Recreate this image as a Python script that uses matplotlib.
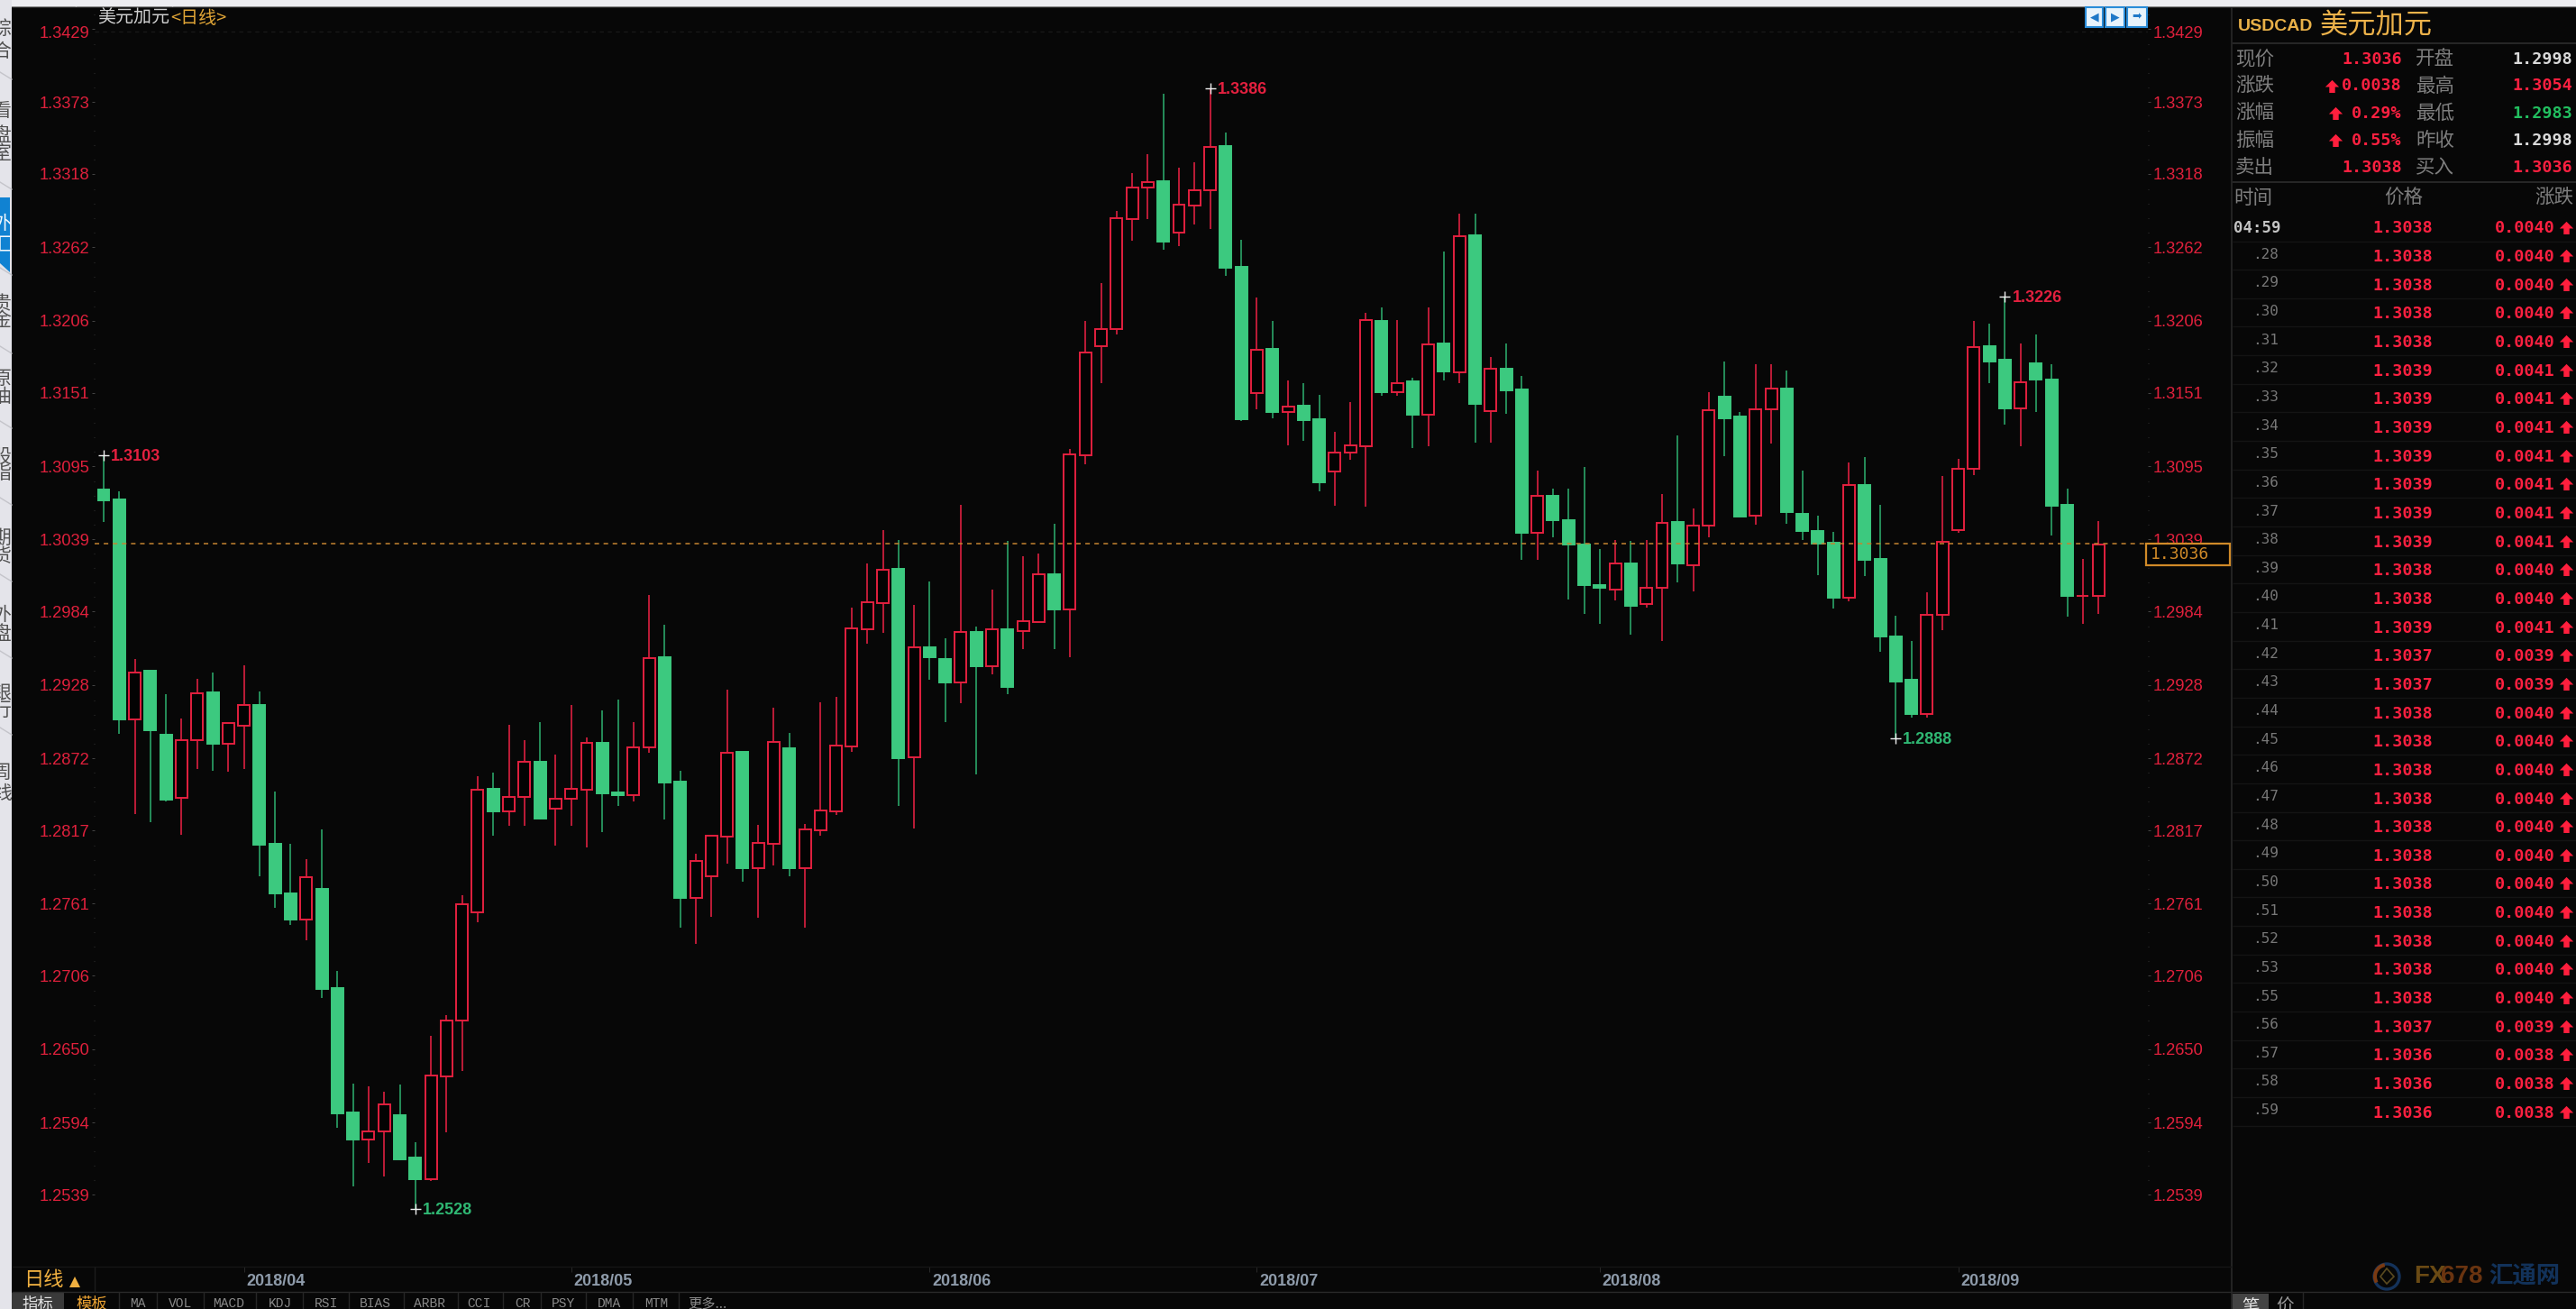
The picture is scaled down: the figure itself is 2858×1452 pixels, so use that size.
import matplotlib
matplotlib.use("Agg")
import matplotlib.pyplot as plt
from matplotlib.patches import Rectangle, Circle, Wedge, Polygon
from matplotlib.path import Path
from matplotlib.ticker import FixedLocator
from matplotlib.transforms import Affine2D, Bbox, TransformedBbox

up = list("GGRGGRRGRRGGGRGGGRRGGRRRRGRRGRRRGGRRGGRRRGRRGRRRRRRGRGGRGRGRRGRRRRRRGRRRGGRGRGGRRRGRGRGRGRGGRGGGGRGRRGRRGGRRGGGGRGGGGRRRRGGRGGGRR")

highs = [1.31030,1.30760,1.29480,1.29389,1.29212,1.29026,1.29327,1.29377,1.28992,1.29430,
 1.29232,1.28469,1.28064,1.27950,1.28179,1.27097,1.26238,1.26218,1.26175,1.26230,
 1.25792,1.26602,1.26763,1.27672,1.28583,1.28611,1.28976,1.28859,1.28996,1.28749,
 1.29127,1.28879,1.29088,1.29170,1.28996,1.29967,1.29739,1.28625,1.27992,1.28129,
 1.29241,1.28769,1.28212,1.29106,1.28914,1.28221,1.29149,1.29189,1.29870,1.30204,
 1.30462,1.30386,1.29892,1.30070,1.29636,1.30655,1.29728,1.30008,1.30379,1.30264,
 1.30286,1.30513,1.31081,1.32060,1.32350,1.32898,1.33187,1.33331,1.33794,1.33228,
 1.33269,1.33834,1.33496,1.32681,1.32237,1.32060,1.31604,1.31585,1.31494,1.31213,
 1.31440,1.32123,1.32164,1.32068,1.31626,1.32164,1.32588,1.32874,1.32874,1.31783,
 1.31886,1.31636,1.30913,1.30780,1.30780,1.30944,1.30317,1.30386,1.30379,1.30386,
 1.30738,1.31184,1.30627,1.31515,1.31751,1.31360,1.31728,1.31728,1.31680,1.30913,
 1.30573,1.30451,1.30978,1.31016,1.30657,1.29809,1.29616,1.29984,1.30875,1.31006,
 1.32060,1.32040,1.32247,1.31886,1.31957,1.31731,1.30780,1.30245,1.30531]

body_top = [1.30772,1.30698,1.29375,1.29389,1.28900,1.28859,1.29219,1.29223,1.28992,1.29127,
 1.29127,1.28064,1.27692,1.27815,1.27723,1.26969,1.26020,1.25872,1.26080,1.25998,
 1.25673,1.26296,1.26719,1.27606,1.28482,1.28487,1.28425,1.28691,1.28694,1.28411,
 1.28487,1.28836,1.28838,1.28460,1.28806,1.29487,1.29492,1.28542,1.27938,1.28129,
 1.28765,1.28769,1.28074,1.28847,1.28799,1.28177,1.28319,1.28817,1.29714,1.29911,
 1.30159,1.30163,1.29569,1.29569,1.29478,1.29684,1.29684,1.29705,1.29705,1.29767,
 1.30126,1.30126,1.31037,1.31820,1.31996,1.32843,1.33079,1.33120,1.33125,1.32946,
 1.33057,1.33388,1.33391,1.32473,1.31841,1.31845,1.31407,1.31409,1.31305,1.31056,
 1.31109,1.32068,1.32060,1.31584,1.31597,1.31882,1.31886,1.32707,1.32712,1.31696,
 1.31696,1.31532,1.30726,1.30726,1.30539,1.30352,1.30045,1.30210,1.30210,1.30023,
 1.30520,1.30524,1.30497,1.31377,1.31483,1.31326,1.31387,1.31542,1.31544,1.30586,
 1.30458,1.30366,1.30807,1.30809,1.30245,1.29652,1.29322,1.29817,1.30375,1.30933,
 1.31862,1.31866,1.31762,1.31593,1.31738,1.31613,1.30657,1.29962,1.30352]

body_bot = [1.30689,1.29017,1.29019,1.28934,1.28407,1.28420,1.28859,1.28831,1.28833,1.28969,
 1.28061,1.27689,1.27489,1.27491,1.26962,1.26013,1.25807,1.25810,1.25872,1.25661,
 1.25508,1.25510,1.26293,1.26719,1.27544,1.28315,1.28317,1.28422,1.28262,1.28337,
 1.28411,1.28482,1.28451,1.28439,1.28441,1.28804,1.28535,1.27655,1.27657,1.27822,
 1.28120,1.27880,1.27884,1.28069,1.27882,1.27884,1.28173,1.28317,1.28813,1.29702,
 1.29907,1.28721,1.28731,1.29492,1.29299,1.29296,1.29423,1.29423,1.29265,1.29691,
 1.29760,1.29854,1.29856,1.31030,1.31868,1.31993,1.32838,1.33077,1.32664,1.32736,
 1.32941,1.33056,1.32464,1.31308,1.31508,1.31363,1.31363,1.31301,1.30827,1.30909,
 1.31054,1.31105,1.31515,1.31515,1.31343,1.31343,1.31673,1.31666,1.31425,1.31373,
 1.31529,1.30441,1.30443,1.30538,1.30352,1.30042,1.30022,1.30011,1.29884,1.29898,
 1.30022,1.30207,1.30195,1.30496,1.31318,1.30565,1.30569,1.31384,1.30600,1.30455,
 1.30359,1.29947,1.29947,1.30235,1.29650,1.29306,1.29058,1.29060,1.29815,1.30465,
 1.30930,1.31751,1.31392,1.31394,1.31608,1.30648,1.29960,1.29957,1.29957]

lows = [1.30524,1.28907,1.28294,1.28233,1.28391,1.28139,1.28639,1.28625,1.28618,1.28639,
 1.27820,1.27582,1.27448,1.27333,1.26891,1.25900,1.25455,1.25629,1.25525,1.25652,
 1.25280,1.25495,1.25867,1.26331,1.27466,1.28127,1.28202,1.28202,1.28253,1.28056,
 1.28202,1.28040,1.28159,1.28356,1.28391,1.28762,1.28253,1.27427,1.27304,1.27510,
 1.27914,1.27776,1.27501,1.27902,1.27818,1.27427,1.28129,1.28286,1.28769,1.29595,
 1.29678,1.28356,1.28184,1.29320,1.28996,1.29141,1.28594,1.29361,1.29212,1.29554,
 1.29760,1.29554,1.29492,1.30967,1.31585,1.31952,1.32671,1.32836,1.32599,1.32629,
 1.32792,1.32763,1.32403,1.31298,1.31384,1.31317,1.31112,1.31143,1.30760,1.30648,
 1.30999,1.30641,1.31484,1.31484,1.31090,1.31102,1.31607,1.31585,1.31132,1.31132,
 1.31350,1.30235,1.30235,1.30409,1.29935,1.29822,1.29748,1.29925,1.29667,1.29873,
 1.29616,1.30063,1.29996,1.30409,1.31028,1.30565,1.30503,1.31123,1.30512,1.30389,
 1.30121,1.29863,1.29918,1.30111,1.29534,1.28875,1.29028,1.29028,1.29698,1.30441,
 1.30883,1.31586,1.31267,1.31102,1.31363,1.30421,1.29801,1.29748,1.29822]

ytick_values = [1.3429,1.3373,1.3318,1.3262,1.3206,1.3151,1.3095,1.3039,1.2984,1.2928,
                1.2872,1.2817,1.2761,1.2706,1.2650,1.2594,1.2539]
month_index = [9,30,53,74,96,119]
month_labels = ["2018/04","2018/05","2018/06","2018/07","2018/08","2018/09"]
extreme_index = [0,71,122,20,115]
extreme_labels = ["1.3103","1.3386","1.3226","1.2528","1.2888"]
extreme_is_high = [True,True,True,False,False]
current_price = 1.3036

quote_left = [("现价","1.3036",False),("涨跌","0.0038",True),("涨幅","0.29%",True),("振幅","0.55%",True),("卖出","1.3038",False)]
quote_right = [("开盘","1.2998","w"),("最高","1.3054","r"),("最低","1.2983","g"),("昨收","1.2998","w"),("买入","1.3036","r")]
row_times = ["04:59",".28",".29",".30",".31",".32",".33",".34",".35",".36",".37",".38",".39",".40",".41",".42",
             ".43",".44",".45",".46",".47",".48",".49",".50",".51",".52",".53",".55",".56",".57",".58",".59"]
row_prices = ["1.3038"]*5+["1.3039"]*7+["1.3038"]*2+["1.3039","1.3037","1.3037"]+["1.3038"]*11+["1.3037","1.3036","1.3036","1.3036"]
row_changes = ["0.0040"]*5+["0.0041"]*7+["0.0040"]*2+["0.0041","0.0039","0.0039"]+["0.0040"]*11+["0.0039","0.0038","0.0038","0.0038"]
tabs = [("MA",153),("VOL",200),("MACD",254),("KDJ",311),("RSI",362),("BIAS",416),("ARBR",477),("CCI",531),("CR",580),("PSY",625),("DMA",676),("MTM",728)]

W, H = 2858, 1452
BG = "#070707"
RED = "#E4203F"
GREEN = "#3CC97F"
plt.rcParams["font.family"] = ["Liberation Sans", "Noto Sans CJK SC", "DejaVu Sans"]
fig = plt.figure(figsize=(W/100, H/100), dpi=100, facecolor=BG)

L, R, T, B = 105, 2383, 8, 1405
ax = fig.add_axes([L/W, 1-B/H, (R-L)/W, (B-T)/H], facecolor=BG)
X0, DX = 115, 17.29
ax.set_xlim((L-X0)/DX, (R-X0)/DX)
price_at = lambda y: 1.34508 - 0.00006881*y
ax.set_ylim(price_at(B), price_at(T))
for s in ax.spines.values():
    s.set_visible(False)

xs = list(range(len(up)))
wick_col = {"R": "#DC2040", "G": "#2BA468"}
ax.vlines(xs, lows, highs, colors=[wick_col[u] for u in up], linewidth=1.2, zorder=2)
heights = [a-b for a, b in zip(body_top, body_bot)]
face = [GREEN if u == "G" else "#030303" for u in up]
edge = [GREEN if u == "G" else RED for u in up]
ax.bar(xs, heights, bottom=body_bot, width=0.75, color=face, edgecolor=edge, linewidth=1.4, zorder=3)

ax.axhline(current_price, color="#C48430", lw=1.1, linestyle=(0, (3.3, 3.3)), zorder=4)
ax.axhline(1.3427, color="#1b1b1b", lw=0.8, linestyle=(0, (4, 4)), zorder=1)

ax.set_yticks(ytick_values)
ax.set_yticklabels([f"{v:.4f}" for v in ytick_values])
ax.yaxis.set_minor_locator(FixedLocator([v+0.00111*k for v in ytick_values for k in range(1, 5)]))
ax.tick_params(axis="y", which="major", length=2, width=0.7, color="#444444", labelcolor="#E0203C",
               labelsize=13.2, left=True, right=True, labelleft=True, labelright=True, pad=2)
ax.tick_params(axis="y", which="minor", length=1, width=0.8, color="#303030", left=True, right=True)
first = ax.yaxis.get_major_ticks()[0]
for lbl in (first.label1, first.label2):
    lbl.set_transform(lbl.get_transform() + Affine2D().translate(0, -3.4))

ax.set_xticks(month_index)
ax.set_xticklabels(month_labels)
ax.tick_params(axis="x", length=4, width=0.7, color="#2a2a2a", labelcolor="#8E9BAA", labelsize=13, pad=1.5)
for lbl in ax.get_xticklabels():
    lbl.set_ha("left")
    lbl.set_fontweight("bold")
    lbl.set_transform(lbl.get_transform() + Affine2D().translate(3, 0))

for i, text, hi in zip(extreme_index, extreme_labels, extreme_is_high):
    val = highs[i] if hi else lows[i]
    ax.plot([i], [val], marker="+", ms=8, mew=1, color="#F0F0F0", zorder=6)
    ax.annotate(text, xy=(i, val), xytext=(8, -1.5), textcoords="offset pixels", va="center", ha="left",
                color=RED if hi else "#2FB873", fontsize=13, fontweight="bold", zorder=6)

# -------- interface chrome in pixel coordinates
ui = fig.add_axes([0, 0, 1, 1], facecolor="none", zorder=5)
ui.set_xlim(0, W)
ui.set_ylim(H, 0)
ui.axis("off")

def rect(x0, y0, x1, y1, fc, ec="none", lw=0, z=1):
    ui.add_patch(Rectangle((x0, y0), x1-x0, y1-y0, facecolor=fc, edgecolor=ec, linewidth=lw, zorder=z))

def hl(y, x0, x1, c="#222222", lw=1.0):
    ui.plot([x0, x1], [y, y], color=c, lw=lw, zorder=1, solid_capstyle="butt")

def vl(x, y0, y1, c="#222222", lw=1.0):
    ui.plot([x, x], [y0, y1], color=c, lw=lw, zorder=1, solid_capstyle="butt")

MONO = "DejaVu Sans Mono"
CJK = "Noto Sans CJK SC"
arrow = Path([(-1, 0), (0, 1), (1, 0), (.42, 0), (.42, -.85), (-.42, -.85), (-.42, 0), (-1, 0)], closed=True)

def up_arrow(x, y, ms=12):
    ui.plot([x], [y], marker=arrow, ms=ms, color="#FF1F3D", mew=0, zorder=3)

# top strip and left sidebar
rect(0, 0, W, 7, "#EDEDF1", z=2)
hl(7, 0, W, "#8A8A8A", 1.0)
for x in (84, 191):
    vl(x, 0, 7, "#C8C8CC")
rect(0, 0, 13, H, "#E4E4EA", z=2)
rect(0, 219, 11, 302, "#1082D2", z=3)
ui.add_patch(Polygon([(0, 292), (11, 302), (0, 302)], facecolor="#E4E4EA", edgecolor="none", zorder=3))
clip = TransformedBbox(Bbox([[0, 0], [13, H]]), ui.transData)
side = [("综",32),("合",57),("看",123),("盘",150),("室",170),("外",248),("汇",272),("贵",337),("金",355),
        ("原",420),("油",440),("股",507),("指",525),("期",597),("货",617),("外",682),("盘",703),("银",768),("行",788),("周",857),("线",880)]
for ch, y in side:
    c = "#F4F8FC" if ch in ("外", "汇") and y < 300 else "#505050"
    t = ui.text(2, y, ch, ha="center", va="center", fontsize=15, color=c, family=CJK, zorder=4)
    t.set_clip_on(True)
    t.set_clip_box(clip)
for y in (88, 210, 305, 392, 475, 560, 645, 730, 815):
    ui.plot([0, 13], [y-8, y], color="#C4C4CA", lw=1, zorder=3)

# chart title and toolbar icons
ui.text(108, 20, "美元加元", color="#CFCFCF", fontsize=14.4, family=CJK, va="center", ha="left")
ui.text(189, 20, "<日线>", color="#DFA436", fontsize=14.4, family=CJK, va="center", ha="left")
for (x0, x1), g in zip([(2314, 2333), (2336, 2357), (2360, 2382)], ["◀", "▶", "➡"]):
    rect(x0, 8, x1, 30, "#E8F3FB", "#2A8CD8", 1.5, z=3)
    ui.text((x0+x1)/2, 19, g, ha="center", va="center", fontsize=9, color="#1E78C8", family="DejaVu Sans", zorder=4)

# current price box
rect(2381, 603, 2474, 627, "#050505", "#D08A28", 1.6, z=3)
ui.text(2386, 615, "1.3036", color="#D08A28", family=MONO, fontsize=13, va="center", ha="left", zorder=4)

# frame lines
vl(2476, 8, H, "#262626", 1.3)
hl(1405, 13, 2476, "#161616")
hl(1433, 13, W, "#2A2A2A")
vl(105, 1405, 1433, "#1c1c1c")

# bottom tabs
ui.text(26, 1420, "日线", color="#F0B040", fontsize=16, family=CJK, va="center", ha="left")
ui.plot([83], [1422], marker="^", ms=9, color="#F0B040", mew=0)
rect(13, 1434, 71, H, "#3A3A3A", z=0)
ui.text(42, 1447, "指标", color="#E4E4E4", fontsize=12.5, family=CJK, va="center", ha="center")
ui.text(102, 1447, "模板", color="#E8A030", fontsize=12.5, family=CJK, va="center", ha="center")
for name, x in tabs:
    ui.text(x, 1446, name, color="#8A8A8A", fontsize=10.5, family="Liberation Mono", va="center", ha="center")
ui.text(785, 1446, "更多...", color="#8A8A8A", fontsize=11, family=CJK, va="center", ha="center")
for x in (132, 174, 226, 284, 336, 387, 448, 508, 558, 600, 650, 702, 753):
    vl(x, 1433, H, "#262626")

# right panel header
ui.text(2483, 29, "USDCAD", color="#E8B048", fontsize=14, fontweight="bold", va="center", ha="left")
ui.text(2574, 29, "美元加元", color="#EDB24A", fontsize=22.5, family=CJK, va="center", ha="left")
hl(48, 2477, W, "#2A2A2A", 1.3)
hl(202, 2477, W, "#2A2A2A", 1.3)
qy = [66, 95.5, 126, 156, 186]
for y, (lab, val, arr) in zip(qy, quote_left):
    ui.text(2480, y, lab, color="#7E7E7E", fontsize=15.5, family=CJK, va="center", ha="left")
    ui.text(2665, y, val, color="#FF2040", fontsize=13.2, fontweight="bold", family=MONO, va="center", ha="right")
    if arr:
        ax_x = 2587 if "%" not in val else 2591
        up_arrow(ax_x, y, 11)
colmap = {"w": "#DADADA", "r": "#FF2040", "g": "#22C060"}
for y, (lab, val, c) in zip(qy, quote_right):
    ui.text(2680, y, lab, color="#7E7E7E", fontsize=15.5, family=CJK, va="center", ha="left")
    ui.text(2854, y, val, color=colmap[c], fontsize=13.2, fontweight="bold", family=MONO, va="center", ha="right")

ui.text(2478, 220, "时间", color="#7E7E7E", fontsize=15.5, family=CJK, va="center", ha="left")
ui.text(2667, 220, "价格", color="#7E7E7E", fontsize=15.5, family=CJK, va="center", ha="center")
ui.text(2855, 220, "涨跌", color="#7E7E7E", fontsize=15.5, family=CJK, va="center", ha="right")

for k, (tm, p, ch) in enumerate(zip(row_times, row_prices, row_changes)):
    y = 253.5 + 31.65*k
    if k == 0:
        ui.text(2478, y, tm, color="#C4C4C4", fontsize=12.5, fontweight="bold", family=MONO, va="center", ha="left")
    else:
        ui.text(2528, y-3, tm, color="#777777", fontsize=11.5, family=MONO, va="center", ha="right")
    ui.text(2699, y, p, color="#FF2040", fontsize=13.2, fontweight="bold", family=MONO, va="center", ha="right")
    ui.text(2835, y, ch, color="#FF2040", fontsize=13.2, fontweight="bold", family=MONO, va="center", ha="right")
    up_arrow(2847, y-1, 11)
    hl(y+14, 2477, W, "#141414")

# bottom-right tabs
rect(2477, 1435, 2517, H, "#444444", z=0)
ui.text(2497, 1449, "笔", color="#E8E8E8", fontsize=14, family=CJK, va="center", ha="center")
ui.text(2535, 1449, "价", color="#9A9A9A", fontsize=14, family=CJK, va="center", ha="center")
vl(2555, 1433, H, "#262626")

# watermark
ui.add_patch(Circle((2648, 1416), 14, facecolor="none", edgecolor="#14325A", lw=2.4, zorder=2))
ui.add_patch(Wedge((2648, 1416), 15, 150, 260, width=4, facecolor="#7A3A12", edgecolor="none", zorder=3))
ui.add_patch(Polygon([(2648, 1407), (2656, 1416), (2648, 1424), (2641, 1416)], facecolor="none", edgecolor="#5A4A20", lw=1.2, zorder=3))
ui.text(2678, 1416, "FX", color="#6A4A14", fontsize=20, fontweight="bold", family="Liberation Sans", va="center", ha="left")
ui.text(2708, 1416, "678", color="#6A3410", fontsize=20, fontweight="bold", family="Liberation Sans", va="center", ha="left")
ui.text(2761, 1416, "汇通网", color="#12325A", fontsize=19, fontweight="bold", family=CJK, va="center", ha="left")

fig.savefig("out.png", dpi=100, facecolor=BG)
